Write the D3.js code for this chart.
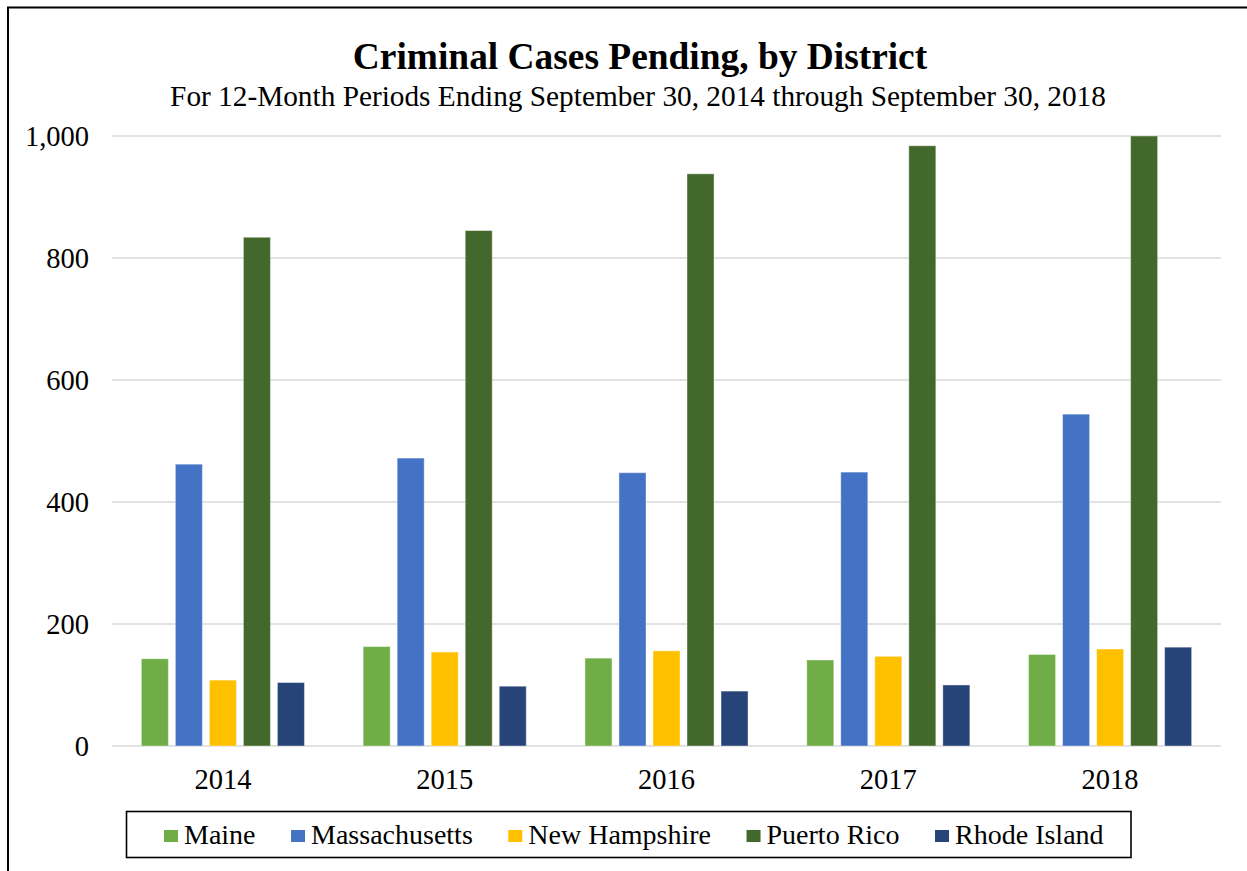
<!DOCTYPE html>
<html>
<head>
<meta charset="utf-8">
<script src="https://cdn.jsdelivr.net/npm/d3@7"></script>
<style>
  body { margin: 0; background: #fff; }
  text { font-family: "Liberation Serif", "Times New Roman", serif; fill: #000; }
</style>
</head>
<body>
<div id="chart"></div>
<script>
const width = 1247;
const height = 871;

/*
Data
*/
const years = ["2014", "2015", "2016", "2017", "2018"];
const districts = ["Maine", "Massachusetts", "New Hampshire", "Puerto Rico", "Rhode Island"];
const maine = [143, 163, 144, 141, 150];
const massachusetts = [462, 472, 448, 449, 544];
const newHampshire = [108, 154, 156, 147, 159];
const puertoRico = [834, 845, 938, 984, 1000];
const rhodeIsland = [104, 98, 90, 100, 162];
const yTicks = [0, 200, 400, 600, 800, 1000];
const colors = ["#70ad47", "#4472c4", "#ffc000", "#43682b", "#264478"];

const series = [maine, massachusetts, newHampshire, puertoRico, rhodeIsland];

const svg = d3.select("#chart")
  .append("svg")
  .attr("width", width)
  .attr("height", height);

// frame (left + top only visible)
svg.append("path")
  .attr("d", `M8,${height} V7.5 H${width}`)
  .attr("fill", "none")
  .attr("stroke", "#000")
  .attr("stroke-width", 2);

/*
Titles
*/
svg.append("text")
  .attr("x", 640)
  .attr("y", 69)
  .attr("text-anchor", "middle")
  .style("font-size", "37.4px")
  .style("font-weight", "bold")
  .text("Criminal Cases Pending, by District");
svg.append("text")
  .attr("x", 638)
  .attr("y", 106)
  .attr("text-anchor", "middle")
  .style("font-size", "29.3px")
  .text("For 12-Month Periods Ending September 30, 2014 through September 30, 2018");

/*
Scales
*/
const x0 = d3.scaleBand().domain(years).range([112, 1221]).padding(0);
const x1 = d3.scaleBand()
  .domain(districts)
  .range([0, x0.bandwidth()])
  .paddingInner(0.206)
  .paddingOuter(0.863);
const y = d3.scaleLinear().domain([0, 1000]).range([746, 136]);

// gridlines
svg.append("g")
  .selectAll("line")
  .data(yTicks)
  .enter()
  .append("line")
  .attr("x1", 112)
  .attr("x2", 1221)
  .attr("y1", d => y(d))
  .attr("y2", d => y(d))
  .attr("stroke", "#d9d9d9")
  .attr("stroke-width", 1.5);

// y axis labels
const yAxis = d3.axisLeft(y)
  .tickValues(yTicks)
  .tickFormat(d3.format(","))
  .tickSize(0)
  .tickPadding(0);
const yg = svg.append("g")
  .attr("transform", "translate(89,0)")
  .call(yAxis);
yg.select(".domain").remove();
yg.selectAll("text")
  .style("font-size", "28.5px")
  .style("font-family", "Liberation Serif, serif")
  .attr("dy", "0.34em");

// bars
const groups = svg.append("g")
  .selectAll("g")
  .data(years)
  .enter()
  .append("g")
  .attr("transform", d => `translate(${x0(d)},0)`);

groups.selectAll("rect")
  .data((d, i) => districts.map((name, j) => ({ name: name, value: series[j][i], color: colors[j] })))
  .enter()
  .append("rect")
  .attr("x", d => x1(d.name))
  .attr("width", x1.bandwidth())
  .attr("y", d => y(d.value))
  .attr("height", d => y(0) - y(d.value))
  .attr("fill", d => d.color)
  .attr("stroke", "#fff")
  .attr("stroke-opacity", 0.4)
  .attr("stroke-width", 1);

// x axis labels
const xAxis = d3.axisBottom(x0).tickSize(0).tickPadding(0);
const xg = svg.append("g")
  .attr("transform", "translate(0,779)")
  .call(xAxis);
xg.select(".domain").remove();
xg.selectAll("text")
  .style("font-size", "28.5px")
  .style("font-family", "Liberation Serif, serif")
  .attr("dy", "0.34em");

/*
Legend
*/
svg.append("rect")
  .attr("x", 126.5)
  .attr("y", 811.5)
  .attr("width", 1004.5)
  .attr("height", 46)
  .attr("fill", "none")
  .attr("stroke", "#000")
  .attr("stroke-width", 1.6);

const legend = svg.append("g");
let lx = 164;
districts.forEach((name, i) => {
  legend.append("rect")
    .attr("x", lx)
    .attr("y", 830)
    .attr("width", 14)
    .attr("height", 12)
    .attr("fill", colors[i]);
  const t = legend.append("text")
    .attr("x", lx + 20)
    .attr("y", 844)
    .style("font-size", "28px")
    .text(name);
  lx += 20 + t.node().getComputedTextLength() + 35.5;
});
</script>
</body>
</html>
